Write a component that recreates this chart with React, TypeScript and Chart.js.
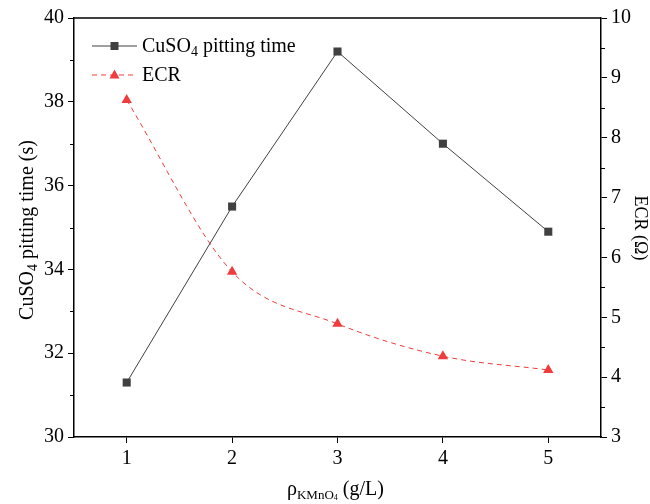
import React, { useEffect, useRef } from "react";
import { Chart, registerables } from "chart.js";

Chart.register(...registerables);

const xValues = [1, 2, 3, 4, 5];
const cuso4Time = [31.3, 35.5, 39.2, 37.0, 34.9];
const ecrValues = [8.63, 5.76, 4.89, 4.35, 4.12];
const leftMinorTicks = [31, 33, 35, 37, 39];
const rightMinorTicks = [3.5, 4.5, 5.5, 6.5, 7.5, 8.5, 9.5];

const FONT = "'Liberation Serif', 'Times New Roman', serif";
const DARK = "#404040";
const RED = "#f03c3c";

const decorPlugin = {
  id: "decor",
  afterDraw(chart: any) {
    const ctx = chart.ctx as CanvasRenderingContext2D;
    const area = chart.chartArea;
    const yL = chart.scales.y;
    const yR = chart.scales.y1;
    ctx.save();
    // top border
    ctx.strokeStyle = "#000";
    ctx.lineWidth = 1.5;
    ctx.beginPath();
    ctx.moveTo(area.left, area.top);
    ctx.lineTo(area.right, area.top);
    ctx.stroke();
    // minor ticks
    ctx.lineWidth = 1;
    ctx.beginPath();
    for (const v of leftMinorTicks) {
      const p = Math.round(yL.getPixelForValue(v)) + 0.5;
      ctx.moveTo(area.left, p);
      ctx.lineTo(area.left - 4, p);
    }
    for (const v of rightMinorTicks) {
      const p = Math.round(yR.getPixelForValue(v)) + 0.5;
      ctx.moveTo(area.right, p);
      ctx.lineTo(area.right + 4, p);
    }
    ctx.stroke();

    ctx.fillStyle = "#000";
    ctx.textBaseline = "alphabetic";
    // left axis title (rotated)
    ctx.save();
    ctx.translate(33, 230);
    ctx.rotate(-Math.PI / 2);
    const parts1: [string, number, number][] = [
      ["CuSO", 20, 0],
      ["4", 14, 4],
      [" pitting time (s)", 20, 0],
    ];
    let total = 0;
    for (const [t, s] of parts1) {
      ctx.font = `${s}px ${FONT}`;
      total += ctx.measureText(t).width;
    }
    let x = -total / 2;
    for (const [t, s, dy] of parts1) {
      ctx.font = `${s}px ${FONT}`;
      ctx.fillText(t, x, dy);
      x += ctx.measureText(t).width;
    }
    ctx.restore();

    // right axis title (rotated clockwise)
    ctx.save();
    ctx.translate(635, 228);
    ctx.rotate(Math.PI / 2);
    ctx.font = `18px ${FONT}`;
    ctx.textAlign = "center";
    ctx.fillText("ECR (Ω)", 0, 0);
    ctx.restore();

    // x axis title
    const parts2: [string, number, number][] = [
      ["ρ", 20, 0],
      ["KMnO", 13, 4],
      ["4", 8, 5],
      [" (g/L)", 20, 0],
    ];
    total = 0;
    for (const [t, s] of parts2) {
      ctx.font = `${s}px ${FONT}`;
      total += ctx.measureText(t).width;
    }
    x = 287;
    const baseY = 495;
    for (const [t, s, dy] of parts2) {
      ctx.font = `${s}px ${FONT}`;
      ctx.fillText(t, x, baseY + dy);
      x += ctx.measureText(t).width;
    }

    // legend
    const lx0 = 92;
    const lx1 = 137;
    const lmid = (lx0 + lx1) / 2;
    // entry 1
    let ly = 46;
    ctx.strokeStyle = DARK;
    ctx.lineWidth = 1;
    ctx.setLineDash([]);
    ctx.beginPath();
    ctx.moveTo(lx0, ly);
    ctx.lineTo(lx1, ly);
    ctx.stroke();
    ctx.fillStyle = DARK;
    ctx.fillRect(lmid - 4, ly - 4, 8, 8);
    ctx.fillStyle = "#000";
    const parts3: [string, number, number][] = [
      ["CuSO", 20, 0],
      ["4", 14, 4],
      [" pitting time", 20, 0],
    ];
    x = 142;
    for (const [t, s, dy] of parts3) {
      ctx.font = `${s}px ${FONT}`;
      ctx.fillText(t, x, ly + 6 + dy);
      x += ctx.measureText(t).width;
    }
    // entry 2
    ly = 75;
    ctx.strokeStyle = RED;
    ctx.setLineDash([5, 4]);
    ctx.beginPath();
    ctx.moveTo(lx0, ly);
    ctx.lineTo(lx1, ly);
    ctx.stroke();
    ctx.setLineDash([]);
    ctx.fillStyle = RED;
    ctx.beginPath();
    ctx.moveTo(lmid, ly - 5.5);
    ctx.lineTo(lmid + 5, ly + 3.5);
    ctx.lineTo(lmid - 5, ly + 3.5);
    ctx.closePath();
    ctx.fill();
    ctx.fillStyle = "#000";
    ctx.font = `20px ${FONT}`;
    ctx.fillText("ECR", 142, ly + 6);

    ctx.restore();
  },
};

export default function App() {
  const ref = useRef<HTMLCanvasElement | null>(null);
  useEffect(() => {
    if (!ref.current) return;
    const tickFont = { family: FONT, size: 20 };
    const chart = new Chart(ref.current, {
      type: "line",
      data: {
        datasets: [
          {
            label: "CuSO4 pitting time",
            data: xValues.map((x, i) => ({ x, y: cuso4Time[i] })),
            borderColor: DARK,
            backgroundColor: DARK,
            borderWidth: 1,
            pointStyle: "rect",
            pointRadius: 5.7,
            pointBorderWidth: 0,
            yAxisID: "y",
            tension: 0,
          },
          {
            label: "ECR",
            data: xValues.map((x, i) => ({ x, y: ecrValues[i] })),
            borderColor: RED,
            backgroundColor: RED,
            borderWidth: 1,
            borderDash: [5, 4],
            pointStyle: "triangle",
            pointRadius: 6,
            pointBorderWidth: 0,
            yAxisID: "y1",
            cubicInterpolationMode: "monotone",
          },
        ],
      },
      options: {
        animation: false,
        responsive: false,
        maintainAspectRatio: false,
        layout: { padding: { top: 18, left: 0, right: 0, bottom: 0 } },
        plugins: {
          legend: { display: false },
          tooltip: { enabled: false },
        },
        scales: {
          x: {
            type: "linear",
            min: 0.5,
            max: 5.5,
            afterBuildTicks: (s: any) => {
              s.ticks = xValues.map((v) => ({ value: v }));
            },
            afterFit: (s: any) => {
              s.height = 67;
            },
            grid: {
              drawOnChartArea: false,
              drawTicks: true,
              tickLength: 6,
              color: "#000",
            },
            border: { color: "#000", width: 1.5 },
            ticks: {
              font: tickFont,
              color: "#000",
              padding: 4,
              callback: (v: any) => String(v),
            },
          },
          y: {
            type: "linear",
            position: "left",
            min: 30,
            max: 40,
            afterFit: (s: any) => {
              s.width = 74;
            },
            grid: {
              drawOnChartArea: false,
              tickLength: 6,
              color: "#000",
            },
            border: { color: "#000", width: 1.5 },
            ticks: { stepSize: 2, font: tickFont, color: "#000", padding: 4 },
          },
          y1: {
            type: "linear",
            position: "right",
            min: 3,
            max: 10,
            afterFit: (s: any) => {
              s.width = 49;
            },
            grid: {
              drawOnChartArea: false,
              tickLength: 6,
              color: "#000",
            },
            border: { color: "#000", width: 1.5 },
            ticks: { stepSize: 1, font: tickFont, color: "#000", padding: 4 },
          },
        },
      },
      plugins: [decorPlugin],
    } as any);
    return () => chart.destroy();
  }, []);
  return (
    <div style={{ position: "absolute", left: 0, top: 0, width: 650, height: 504, background: "#fff" }}>
      <canvas ref={ref} width={650} height={504} style={{ width: 650, height: 504 }} />
    </div>
  );
}
